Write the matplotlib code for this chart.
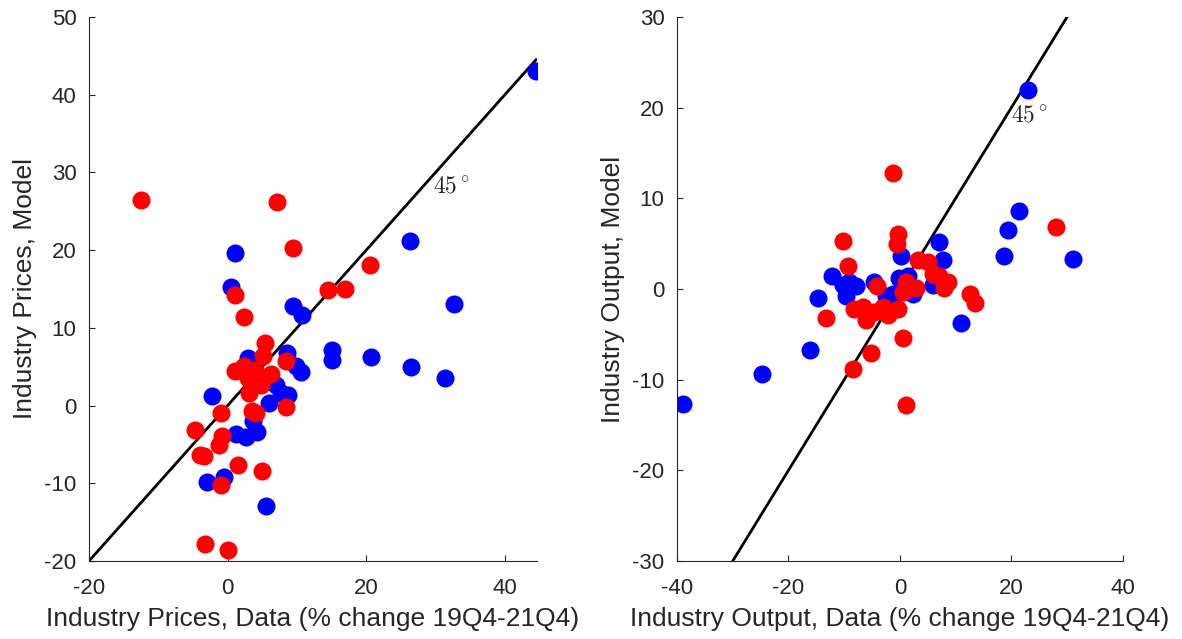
import numpy as np
import matplotlib.pyplot as plt

plt.rcParams['font.family'] = ['Liberation Sans', 'DejaVu Sans']
plt.rcParams['mathtext.fontset'] = 'cm'
plt.rcParams['axes.unicode_minus'] = False

# prices panel
px_blue = [1.1, 0.5, 9.5, 10.8, 15.1, 15.0, 2.9, 8.6, 9.9, 10.6, -2.3, 7.0, 8.7, 6.0, 7.7,
           3.6, 1.2, 2.6, 4.3, -3.0, -0.5, 5.6, 26.3, 32.6, 20.7, 26.5, 31.4, 44.5]
py_blue = [19.6, 15.3, 12.8, 11.6, 7.1, 5.8, 6.1, 6.7, 5.1, 4.3, 1.2, 2.7, 1.4, 0.3, 1.6,
           -2.0, -3.7, -4.0, -3.4, -9.9, -9.2, -12.9, 21.2, 13.1, 6.3, 5.0, 3.5, 43.0]
px_red = [-12.5, 7.1, 9.4, 20.5, 14.5, 17.0, 1.0, 2.4, 5.4, 5.1, 8.4, 1.0, 2.4, 3.9, 6.3, 2.9,
          4.8, 3.1, 8.4, 3.5, 4.1, -0.9, -4.7, -0.8, -1.2, -4.0, -3.4, 1.5, 4.9, -0.9, -3.2, 0.0]
py_red = [26.4, 26.2, 20.3, 18.1, 14.9, 15.0, 14.2, 11.4, 8.1, 6.4, 5.7, 4.4, 5.1, 4.6, 4.1, 3.6,
          2.7, 1.6, -0.2, -0.7, -0.9, -0.9, -3.1, -3.9, -5.1, -6.4, -6.5, -7.7, -8.4, -10.2, -17.8, -18.6]

# output panel
qx_blue = [7.1, 7.7, 0.2, -12.1, -10.3, -9.7, -7.9, -9.1, -4.6, -0.1, 1.4, 2.3, 5.9, -2.5, -1.3,
           -14.7, 11.0, -16.2, -24.8, -39.0, 23.0, 21.4, 19.4, 18.7, 31.0]
qy_blue = [5.2, 3.2, 3.6, 1.4, 0.4, -0.8, 0.3, 0.8, 0.8, 1.2, 1.4, -0.5, 0.4, -0.8, -0.5,
           -1.0, -3.7, -6.7, -9.4, -12.7, 21.9, 8.6, 6.5, 3.6, 3.3]
qx_red = [-1.2, -10.2, -0.4, -0.6, -9.3, 3.2, 5.0, 5.9, 7.1, 8.6, 8.0, -4.2, 1.1, 2.9, 0.5, 12.5,
          13.5, -8.2, -6.7, -6.1, -4.6, -3.1, -2.2, -0.4, -13.2, 0.5, -5.2, -8.4, 1.1, 28.0]
qy_red = [12.8, 5.3, 6.1, 5.0, 2.5, 3.2, 3.0, 1.7, 1.4, 0.8, 0.1, 0.3, 0.8, 0.1, -0.3, -0.5,
          -1.5, -2.2, -2.0, -3.4, -2.5, -2.0, -2.9, -2.2, -3.2, -5.4, -7.1, -8.8, -12.8, 6.8]

dark = '#262626'
fig = plt.figure(figsize=(11.82, 6.39), dpi=100)
ax1 = fig.add_axes([0.0753, 0.1221, 0.3788, 0.8513])
ax2 = fig.add_axes([0.5728, 0.1221, 0.3771, 0.8513])


def style(ax, xlabel, ylabel):
    for s in ['top', 'right']:
        ax.spines[s].set_visible(False)
    for s in ['left', 'bottom']:
        ax.spines[s].set_color(dark)
        ax.spines[s].set_linewidth(0.8)
    ax.tick_params(direction='in', length=4, width=0.8, color=dark,
                   labelcolor=dark, labelsize=16)
    ax.tick_params(axis='x', pad=12)
    ax.tick_params(axis='y', pad=9)
    ax.set_xlabel(xlabel, fontsize=19, color=dark, labelpad=6)
    ax.set_ylabel(ylabel, fontsize=19, color=dark, labelpad=5.5)


# left
ax1.plot([-20, 44.5], [-20, 44.5], color='k', lw=2)
ax1.plot(px_blue, py_blue, 'o', color='#0000ff', ms=13, mec='none')
ax1.plot(px_red, py_red, 'o', color='#ff0000', ms=13, mec='none')
ax1.text(29.7, 28.2, r'$45^\circ$', fontsize=17, va='center', ha='left', color='#262626')
ax1.set_xlim(-20, 44.6)
ax1.set_ylim(-20, 50)
ax1.set_xticks([-20, 0, 20, 40])
ax1.set_yticks(np.arange(-20, 51, 10))
style(ax1, 'Industry Prices, Data (% change 19Q4-21Q4)', 'Industry Prices, Model')

# right
ax2.plot([-30, 30], [-30, 30], color='k', lw=2)
ax2.plot(qx_blue, qy_blue, 'o', color='#0000ff', ms=13, mec='none')
ax2.plot(qx_red, qy_red, 'o', color='#ff0000', ms=13, mec='none')
ax2.text(20.0, 19.1, r'$45^\circ$', fontsize=17, va='center', ha='left', color='#262626')
ax2.set_xlim(-40, 40)
ax2.set_ylim(-30, 30)
ax2.set_xticks([-40, -20, 0, 20, 40])
ax2.set_yticks(np.arange(-30, 31, 10))
style(ax2, 'Industry Output, Data (% change 19Q4-21Q4)', 'Industry Output, Model')

fig.savefig('out.png', dpi=100)
